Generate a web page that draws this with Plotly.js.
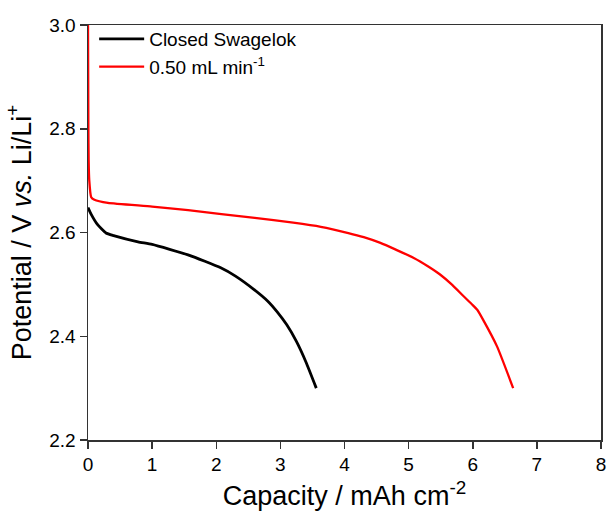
<!DOCTYPE html>
<html>
<head>
<meta charset="utf-8">
<script src="https://cdn.plot.ly/plotly-3.0.1.min.js"></script>
<style>html,body{margin:0;padding:0;background:#fff;}#chart{width:609px;height:520px;}</style>
</head>
<body>
<div id="chart"></div>
<script>
const closedX = [0, 0.05, 0.15, 0.28, 0.4, 0.78, 1.0, 1.56, 2.07, 2.3, 2.6, 2.8, 2.95, 3.1, 3.25, 3.4, 3.56];
const closedY = [2.648, 2.635, 2.615, 2.599, 2.594, 2.582, 2.577, 2.557, 2.532, 2.516, 2.489, 2.468, 2.447, 2.422, 2.390, 2.350, 2.300];
const flowX = [0, 0.003, 0.006, 0.01, 0.02, 0.05, 0.1, 0.31, 1.0, 1.56, 2.6, 3.2, 3.63, 4.06, 4.3, 4.56, 4.8, 5.08, 5.3, 5.49, 5.68, 5.85, 6.0, 6.07, 6.16, 6.38, 6.63];
const flowY = [3.0, 2.90, 2.80, 2.74, 2.70, 2.668, 2.663, 2.657, 2.650, 2.643, 2.628, 2.619, 2.611, 2.599, 2.591, 2.580, 2.567, 2.551, 2.535, 2.519, 2.499, 2.478, 2.460, 2.451, 2.432, 2.380, 2.300];
const seriesNames = ["Closed Swagelok", "0.50 mL min<sup>-1</sup>"];

const traces = [
  {x: closedX, y: closedY, name: seriesNames[0], mode: "lines", line: {color: "#000000", width: 2.8, shape: "spline", smoothing: 0.5}},
  {x: flowX, y: flowY, name: seriesNames[1], mode: "lines", line: {color: "#ff0000", width: 2.3, shape: "spline", smoothing: 0.5}}
];

const layout = {
  width: 609, height: 520,
  margin: {l: 88, r: 8, t: 25, b: 80},
  paper_bgcolor: "#fff", plot_bgcolor: "#fff",
  font: {family: "Liberation Sans, Arial, sans-serif", color: "#000", size: 19},
  showlegend: true,
  legend: {x: 0.012, y: 1.012, xanchor: "left", yanchor: "top", bgcolor: "rgba(0,0,0,0)", font: {size: 19}, tracegroupgap: 0, itemwidth: 45},
  xaxis: {
    range: [0, 8], dtick: 1, tick0: 0,
    ticks: "outside", ticklen: 7, tickwidth: 1.5, tickcolor: "#333",
    showline: true, linecolor: "#333", linewidth: 1.5, mirror: true,
    showgrid: false, zeroline: false,
    tickfont: {size: 19},
    title: {text: "Capacity / mAh cm<sup>-2</sup>", font: {size: 27}, standoff: 12}
  },
  yaxis: {
    range: [2.2, 3.0], dtick: 0.2, tick0: 2.2, tickformat: ".1f",
    ticks: "outside", ticklen: 7, tickwidth: 1.5, tickcolor: "#333",
    showline: true, linecolor: "#333", linewidth: 1.5, mirror: true,
    showgrid: false, zeroline: false,
    tickfont: {size: 19},
    title: {text: "Potential / V <i>vs.</i> Li/Li<sup>+</sup>", font: {size: 27}, standoff: 10}
  }
};

Plotly.newPlot("chart", traces, layout, {displayModeBar: false, staticPlot: true});
</script>
</body>
</html>
